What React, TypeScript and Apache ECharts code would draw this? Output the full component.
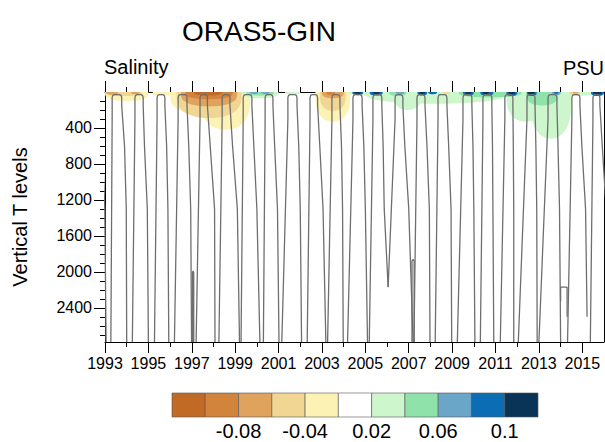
import React, { useEffect, useRef } from "react";
import * as echarts from "echarts";

const FONT = "'Liberation Sans', Arial, Helvetica, sans-serif";

// ---- axes ----
const YEAR_MIN = 1993;
const YEAR_MAX = 2016;
const DEPTH_MAX = 2780;
const yearTicks = [1993, 1995, 1997, 1999, 2001, 2003, 2005, 2007, 2009, 2011, 2013, 2015];
const minorYearTicks = [1994, 1996, 1998, 2000, 2002, 2004, 2006, 2008, 2010, 2012, 2014];
const depthTicks = [400, 800, 1200, 1600, 2000, 2400];
const minorDepthTicks = [100, 200, 300, 500, 600, 700, 900, 1000, 1100, 1300, 1400, 1500, 1700, 1800, 1900, 2100, 2200, 2300, 2500, 2600, 2700];

// ---- colour levels (PSU) ----
const levels = [-0.1, -0.08, -0.06, -0.04, -0.02, 0.02, 0.04, 0.06, 0.08, 0.1];
const levelLabelPos = [2, 4, 6, 8, 10];
const levelLabels = ["-0.08", "-0.04", "0.02", "0.06", "0.1"];
const palette = [
  "#c06a26", "#d2843c", "#e0a35e", "#f0d692", "#fcf2b4", "#ffffff",
  "#cdf6cd", "#8fe2aa", "#6aa6c8", "#0b6db3", "#0a3457",
];

// ---- salinity anomaly patches (hanging from the surface) ----
const patchStart = [
  1993.0, 1993.0, 1993.05, 1994.2, 1995.2,
  1996.0, 1997.4, 1996.3, 1996.5, 1996.7, 1997.1,
  1999.3, 1999.5, 1999.7, 2000.2, 2001.3,
  2002.7, 2002.9, 2003.0, 2003.2,
  2004.2, 2005.0, 2006.3, 2011.5, 2012.6, 2012.4, 2009.3,
  2004.4, 2004.5, 2005.2, 2005.35, 2006.1, 2006.4, 2007.4, 2007.5, 2007.9, 2008.6,
  2009.5, 2009.6, 2010.3, 2010.4, 2011.5, 2011.6, 2012.45, 2012.5, 2013.6, 2013.7,
  2014.4, 2014.55, 2015.4, 2015.5,
];
const patchEnd = [
  1995.0, 1994.7, 1993.6, 1994.6, 1996.2,
  1998.2, 1999.7, 1999.3, 1999.1, 1998.9, 1998.4,
  2001.0, 2000.8, 2000.05, 2000.6, 2002.0,
  2004.3, 2004.1, 2004.0, 2003.6,
  2016.0, 2011.5, 2007.6, 2013.3, 2014.5, 2013.9, 2012.2,
  2004.9, 2004.8, 2005.8, 2005.65, 2006.9, 2006.8, 2007.85, 2007.75, 2008.3, 2008.9,
  2010.0, 2009.9, 2010.9, 2010.7, 2012.0, 2011.9, 2012.9, 2012.8, 2014.0, 2013.9,
  2014.9, 2014.8, 2016.0, 2015.9,
];
const patchDepth = [
  100, 45, 30, 25, 40,
  230, 420, 290, 160, 80, 40,
  70, 40, 22, 22, 30,
  330, 210, 70, 35,
  60, 130, 200, 330, 520, 150, 60,
  35, 20, 40, 22, 45, 22, 40, 22, 25, 20,
  40, 22, 40, 22, 45, 25, 45, 25, 35, 20,
  30, 18, 45, 25,
];
const patchValue = [
  -0.03, -0.05, -0.07, -0.07, -0.03,
  -0.03, -0.03, -0.05, -0.07, -0.09, -0.11,
  0.03, 0.05, 0.07, 0.07, 0.03,
  -0.03, -0.05, -0.07, -0.09,
  0.03, 0.03, 0.03, 0.03, 0.03, 0.05, 0.05,
  0.09, 0.11, 0.09, 0.11, 0.05, 0.07, 0.09, 0.11, 0.09, -0.05,
  0.09, 0.11, 0.09, 0.11, 0.09, 0.11, 0.09, 0.11, 0.07, 0.09,
  -0.05, -0.07, 0.09, 0.11,
];

// ---- grey contour arches, one per year (offsets in years from Jan 1) ----
const archYears = [1992, 1993, 1994, 1995, 1996, 1997, 1998, 1999, 2000, 2001, 2002, 2003, 2004, 2005, 2006, 2007, 2008, 2009, 2010, 2011, 2012, 2013, 2014, 2015];
const leftBot = [0.25, 0.27, 0.26, 0.28, 0.2, 0.2, 0.25, 0.27, 0.3, 0.15, 0.32, 0.26, 0.18, 0.18, 0.05, 0.24, 0.22, 0.24, 0.3, 0.22, 0.05, 0.0, 0.32, 0.37];
const leftEnd = [2780, 2780, 2780, 2780, 2780, 2780, 2780, 2780, 2780, 2780, 2780, 2780, 2780, 2780, 2170, 2780, 2780, 2780, 2780, 2780, 2780, 2780, 2780, 2780];
const leftTop = [0.4, 0.33, 0.38, 0.4, 0.37, 0.38, 0.4, 0.37, 0.38, 0.43, 0.45, 0.46, 0.43, 0.35, 0.37, 0.38, 0.35, 0.5, 0.42, 0.43, 0.45, 0.42, 0.52, 0.49];
const rightTop = [0.8, 0.77, 0.76, 0.76, 0.78, 0.72, 0.76, 0.77, 0.74, 0.85, 0.8, 0.83, 0.85, 0.76, 0.73, 0.75, 0.76, 0.91, 0.83, 0.8, 0.82, 0.83, 0.89, 0.81];
const rightUpper = [0.88, 0.9, 0.82, 0.84, 0.86, 0.85, 0.88, 0.86, 0.82, 0.93, 0.9, 0.9, 0.93, 0.82, 0.82, 0.84, 0.84, 0.96, 0.86, 0.82, 0.86, 0.88, 0.98, 0.92];
const rightMid = [0.99, 0.98, 0.95, 0.9, 0.95, 1.05, 1.1, 1.0, 0.95, 1.0, 1.05, 0.95, 1.0, 0.87, 1.0, 0.95, 0.95, 1.0, 0.88, 0.84, 0.9, 0.95, 1.15, 1.1];
const rightBot = [1.05, 1.0, 1.0, 0.94, 0.99, 1.07, 1.2, 1.14, 1.02, 1.06, 1.18, 0.98, 1.1, 1.05, 1.2, 0.98, 0.98, 1.05, 0.92, 0.84, 0.92, 1.0, 1.22, 1.2];
const rightEnd = [2780, 2780, 2780, 2780, 2780, 2780, 2780, 2780, 2780, 2780, 2780, 2780, 2780, 2170, 2780, 2780, 2780, 2780, 2780, 2780, 2780, 2780, 2500, 2780];

// small closed tongues / hooks in the deep part
const extraContours: number[][][] = [
  [[1997.03, 2780], [1997.03, 2010], [1997.06, 1990], [1997.09, 2010], [1997.09, 2780]],
  [[2007.15, 2780], [2007.15, 1880], [2007.2, 1860], [2007.25, 1880], [2007.25, 2780]],
  [[2014.0, 2330], [2014.0, 2170], [2014.3, 2170], [2014.3, 2500]],
];

const LINE_COLOR = "#6e6e6e";

function colorFor(v: number) {
  let idx = 0;
  for (const l of levels) if (v >= l) idx++;
  return palette[idx];
}

function buildOption() {
  const patchData = patchStart.map((s, i) => [s, patchEnd[i], patchDepth[i], patchValue[i]]);

  const patchSeries = {
    type: "custom",
    xAxisIndex: 0,
    yAxisIndex: 0,
    silent: true,
    data: patchData,
    renderItem: (_p: any, api: any) => {
      const t0 = api.value(0);
      const t1 = api.value(1);
      const d = api.value(2);
      const v = api.value(3);
      const pts: number[][] = [];
      const n = 28;
      for (let k = 0; k <= n; k++) {
        const a = (Math.PI * k) / n;
        const t = (t0 + t1) / 2 - ((t1 - t0) / 2) * Math.cos(a);
        const dd = d * Math.pow(Math.sin(a), 0.6);
        pts.push(api.coord([t, dd]));
      }
      return { type: "polygon", shape: { points: pts }, style: { fill: colorFor(v) } };
    },
  };

  const archSeries = archYears.map((y, i) => ({
    type: "line",
    xAxisIndex: 0,
    yAxisIndex: 0,
    symbol: "none",
    silent: true,
    clip: true,
    lineStyle: { color: LINE_COLOR, width: 1.3 },
    data: [
      [y + leftBot[i], leftEnd[i]],
      [y + leftTop[i], 300],
      [y + leftTop[i], 60],
      [y + leftTop[i] + 0.03, 38],
      [y + leftTop[i] + 0.1, 30],
      [y + rightTop[i] - 0.1, 30],
      [y + rightTop[i] - 0.03, 38],
      [y + rightTop[i], 60],
      [y + rightTop[i], 150],
      [y + rightUpper[i], 600],
      [y + rightMid[i], 1300],
      [y + rightBot[i], rightEnd[i]],
    ],
  }));

  const extraSeries = extraContours.map((pts) => ({
    type: "line",
    xAxisIndex: 0,
    yAxisIndex: 0,
    symbol: "none",
    silent: true,
    clip: true,
    lineStyle: { color: LINE_COLOR, width: 1.3 },
    data: pts,
  }));

  const colorbarSeries = {
    type: "custom",
    xAxisIndex: 4,
    yAxisIndex: 3,
    silent: true,
    data: palette.map((_c, i) => [i, i + 1]),
    renderItem: (p: any, api: any) => {
      const a = api.coord([api.value(0), 0]);
      const b = api.coord([api.value(1), 1]);
      return {
        type: "rect",
        shape: { x: a[0], y: b[1], width: b[0] - a[0], height: a[1] - b[1] },
        style: { fill: palette[p.dataIndex], stroke: "#555", lineWidth: 0.6 },
      };
    },
  };

  const blackLine = { show: true, onZero: false, lineStyle: { color: "#000", width: 1 } };
  const noLine = { show: false, onZero: false };
  const tickStyle = { color: "#000", width: 1 };

  return {
    animation: false,
    backgroundColor: "#fff",
    textStyle: { fontFamily: FONT },
    title: [
      { text: "ORAS5-GIN", left: 182, top: 17, padding: 0, textStyle: { fontFamily: FONT, fontSize: 28, fontWeight: "normal", color: "#000" } },
      { text: "Salinity", left: 104, top: 57, padding: 0, textStyle: { fontFamily: FONT, fontSize: 20, fontWeight: "normal", color: "#000" } },
      { text: "PSU", right: 1, top: 58, padding: 0, textStyle: { fontFamily: FONT, fontSize: 20, fontWeight: "normal", color: "#000" } },
    ],
    grid: [
      { left: 105, top: 92, width: 499, height: 250, containLabel: false },
      { left: 172, top: 393, width: 366, height: 24, containLabel: false },
    ],
    xAxis: [
      {
        type: "value", gridIndex: 0, position: "bottom", min: YEAR_MIN, max: YEAR_MAX,
        axisLine: blackLine,
        axisTick: { show: true, customValues: yearTicks, length: 11, lineStyle: tickStyle },
        axisLabel: { show: true, customValues: yearTicks, formatter: (v: number) => String(v), fontSize: 16, color: "#000", margin: 13, fontFamily: FONT },
        splitLine: { show: false },
      },
      {
        type: "value", gridIndex: 0, position: "bottom", min: YEAR_MIN, max: YEAR_MAX,
        axisLine: noLine,
        axisTick: { show: true, customValues: minorYearTicks, length: 5, lineStyle: tickStyle },
        axisLabel: { show: false },
        splitLine: { show: false },
      },
      {
        type: "value", gridIndex: 0, position: "top", min: YEAR_MIN, max: YEAR_MAX,
        axisLine: blackLine,
        axisTick: { show: true, customValues: yearTicks, length: 11, lineStyle: tickStyle },
        axisLabel: { show: false },
        splitLine: { show: false },
      },
      {
        type: "value", gridIndex: 0, position: "top", min: YEAR_MIN, max: YEAR_MAX,
        axisLine: noLine,
        axisTick: { show: true, customValues: minorYearTicks, length: 5, lineStyle: tickStyle },
        axisLabel: { show: false },
        splitLine: { show: false },
      },
      {
        type: "value", gridIndex: 1, min: 0, max: 11,
        axisLine: { show: false },
        axisTick: { show: false },
        axisLabel: {
          show: true, customValues: levelLabelPos, fontSize: 20, color: "#000", margin: 4, fontFamily: FONT,
          formatter: (v: number) => levelLabels[levelLabelPos.indexOf(v)] ?? "",
        },
        splitLine: { show: false },
      },
    ],
    yAxis: [
      {
        type: "value", gridIndex: 0, position: "left", inverse: true, min: 0, max: DEPTH_MAX,
        axisLine: blackLine,
        axisTick: { show: true, customValues: depthTicks, length: 11, lineStyle: tickStyle },
        axisLabel: { show: true, customValues: depthTicks, formatter: (v: number) => String(v), fontSize: 16, color: "#000", margin: 13, fontFamily: FONT },
        splitLine: { show: false },
        name: "Vertical T levels",
        nameLocation: "middle",
        nameRotate: 90,
        nameGap: 75,
        nameTextStyle: { fontSize: 20, color: "#000", fontFamily: FONT },
      },
      {
        type: "value", gridIndex: 0, position: "left", inverse: true, min: 0, max: DEPTH_MAX,
        axisLine: noLine,
        axisTick: { show: true, customValues: minorDepthTicks, length: 5, lineStyle: tickStyle },
        axisLabel: { show: false },
        splitLine: { show: false },
      },
      {
        type: "value", gridIndex: 0, position: "right", inverse: true, min: 0, max: DEPTH_MAX,
        axisLine: blackLine,
        axisTick: { show: false },
        axisLabel: { show: false },
        splitLine: { show: false },
      },
      {
        type: "value", gridIndex: 1, min: 0, max: 1, show: false,
        axisLine: { show: false }, axisTick: { show: false }, axisLabel: { show: false }, splitLine: { show: false },
      },
    ],
    series: [patchSeries, ...archSeries, ...extraSeries, colorbarSeries],
  };
}

export default function App() {
  const ref = useRef<HTMLDivElement>(null);
  useEffect(() => {
    if (!ref.current) return;
    const chart = echarts.init(ref.current, null, { renderer: "svg" });
    chart.setOption(buildOption() as any);
    return () => chart.dispose();
  }, []);
  return (
    <div
      ref={ref}
      style={{ position: "fixed", left: 0, top: 0, width: 605, height: 442, background: "#fff" }}
    />
  );
}
